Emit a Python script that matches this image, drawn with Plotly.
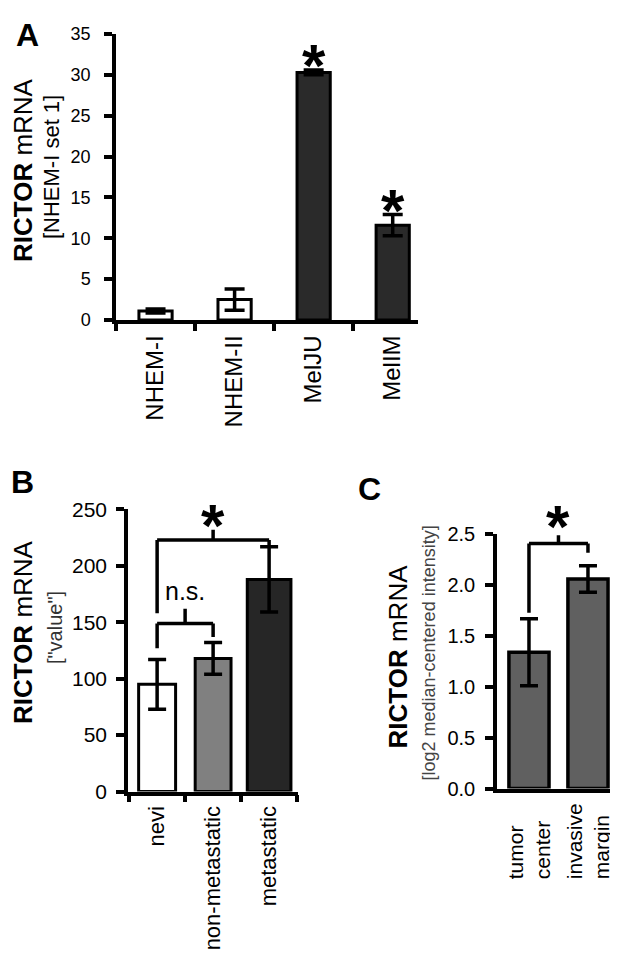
import plotly.graph_objects as go

W, H = 618, 961

# ---------------- data ----------------
# Panel A
cellsA = ["NHEM-I", "NHEM-II", "MelJU", "MelIM"]
meanA = [1.1, 2.5, 30.3, 11.6]
errA = [0.25, 1.3, 0.3, 1.3]
sigA = ["", "", "*", "*"]
ticksA = [0, 5, 10, 15, 20, 25, 30, 35]

# Panel B
groupsB = ["nevi", "non-metastatic", "metastatic"]
meanB = [95, 118, 188]
errB = [22, 14, 29]
ticksB = [0, 50, 100, 150, 200, 250]
bracketB_left = ["nevi", "nevi"]
bracketB_right = ["non-metastatic", "metastatic"]
bracketB_level = [149, 223]
bracketB_leftEnd = [127, 158]
bracketB_rightEnd = [137, 218]
bracketB_peak = [162, 232]
bracketB_label = ["n.s.", "*"]

# Panel C
regionsC = ["tumor center", "invasive margin"]
meanC = [1.34, 2.06]
errC = [0.33, 0.13]
ticksC = [0.0, 0.5, 1.0, 1.5, 2.0, 2.5]
bracketC_left = ["tumor center"]
bracketC_right = ["invasive margin"]
bracketC_level = [2.41]
bracketC_leftEnd = [1.73]
bracketC_rightEnd = [2.32]
bracketC_peak = [2.49]
bracketC_label = ["*"]

# ---------------- helpers ----------------
FONT = "Liberation Sans, Arial, sans-serif"

# observed placement of the page: x offset 8 px (no scaling), y offset 18 px with 941 px height
OX, OY, PW, PH = 8, 18, 618, 941


def px(x):
    return min(max((x - OX) / PW, 0.0), 1.0)


def py(y):
    return min(max(1 - (y - OY) / PH, 0.0), 1.0)


fig = go.Figure()

colorsA = ["white", "white", "#2a2a2a", "#2a2a2a"]
colorsB = ["white", "#808080", "#262626"]
colorsC = ["#606060", "#606060"]
widthsB = [0.66, 0.64, 0.78]

fig.add_trace(go.Bar(
    x=cellsA, y=meanA, xaxis="x", yaxis="y", width=0.42,
    marker=dict(color=colorsA, line=dict(color="black", width=3)),
    error_y=dict(type="data", array=errA, color="black", thickness=3.5, width=10),
))
fig.add_trace(go.Bar(
    x=groupsB, y=meanB, xaxis="x2", yaxis="y2", width=widthsB,
    marker=dict(color=colorsB, line=dict(color="black", width=3)),
    error_y=dict(type="data", array=errB, color="black", thickness=3.5, width=9),
))
fig.add_trace(go.Bar(
    x=regionsC, y=meanC, xaxis="x3", yaxis="y3", width=0.68,
    marker=dict(color=colorsC, line=dict(color="black", width=3.5)),
    error_y=dict(type="data", array=errC, color="black", thickness=3.5, width=9),
))

axis_common = dict(showline=True, linecolor="black", linewidth=3.5,
                   tickcolor="black", tickwidth=3.5, showgrid=False, zeroline=False,
                   fixedrange=True)

fig.update_layout(
    width=W, height=H, margin=dict(l=0, r=0, t=0, b=0),
    paper_bgcolor="white", plot_bgcolor="white", showlegend=False,
    font=dict(family=FONT, color="black"),
    xaxis=dict(domain=[px(116), px(418)], anchor="y", type="category",
               range=[-0.5, 3.32], tickson="boundaries", ticks="outside", ticklen=7,
               tickangle=-90, tickfont=dict(size=24), ticklabelstandoff=2, **axis_common),
    yaxis=dict(domain=[py(319), py(32)], anchor="x", range=[0, 35], tickvals=ticksA,
               ticks="outside", ticklen=8, tickfont=dict(size=18), ticklabelstandoff=10,
               **axis_common),
    xaxis2=dict(domain=[px(128), px(298)], anchor="y2", type="category",
                range=[-0.52, 2.516], tickson="boundaries", ticks="outside", ticklen=7,
                tickangle=-90, tickfont=dict(size=22), ticklabelstandoff=2, **axis_common),
    yaxis2=dict(domain=[py(792), py(509)], anchor="x2", range=[0, 250], tickvals=ticksB,
                ticks="outside", ticklen=8, tickfont=dict(size=21), ticklabelstandoff=5,
                **axis_common),
    xaxis3=dict(domain=[px(497), px(618)], anchor="y3", type="category",
                range=[-0.542, 1.509], showticklabels=False, ticks="",
                **axis_common),
    yaxis3=dict(domain=[py(789), py(534)], anchor="x3", range=[0, 2.5], tickvals=ticksC,
                tickformat=".1f", ticks="outside", ticklen=8, tickfont=dict(size=20),
                ticklabelstandoff=6, **axis_common),
)

annotations = []
shapes = []

for i, (c, m, e, s) in enumerate(zip(cellsA, meanA, errA, sigA)):
    if s:
        annotations.append(dict(x=c, y=m + e, xref="x", yref="y", text=s, showarrow=False,
                                xanchor="center", yanchor="middle", yshift=4,
                                font=dict(size=60, family=FONT, color="black", weight="bold")))


def brackets(xref, yref, cats, lefts, rights, levels, lends, rends, peaks, labels, label_shift):
    for l, r, lv, le, re_, pk, lab in zip(lefts, rights, levels, lends, rends, peaks, labels):
        li, ri = cats.index(l), cats.index(r)
        mid = (li + ri) / 2
        line = dict(color="black", width=3.5)
        shapes.append(dict(type="line", xref=xref, yref=yref, x0=li, x1=li, y0=le, y1=lv, line=line))
        shapes.append(dict(type="line", xref=xref, yref=yref, x0=li, x1=ri, y0=lv, y1=lv, line=line))
        shapes.append(dict(type="line", xref=xref, yref=yref, x0=ri, x1=ri, y0=re_, y1=lv, line=line))
        shapes.append(dict(type="line", xref=xref, yref=yref, x0=mid, x1=mid, y0=lv, y1=pk, line=line))
        if lab == "*":
            annotations.append(dict(x=mid, y=pk, xref=xref, yref=yref, text=lab, showarrow=False,
                                    xanchor="center", yanchor="middle", yshift=label_shift,
                                    font=dict(size=60, family=FONT, color="black", weight="bold")))
        else:
            annotations.append(dict(x=mid, y=pk, xref=xref, yref=yref, text=lab, showarrow=False,
                                    xanchor="center", yanchor="middle", yshift=18,
                                    font=dict(size=25, family=FONT, color="black")))


brackets("x2", "y2", groupsB, bracketB_left, bracketB_right, bracketB_level,
         bracketB_leftEnd, bracketB_rightEnd, bracketB_peak, bracketB_label, 4)
brackets("x3", "y3", regionsC, bracketC_left, bracketC_right, bracketC_level,
         bracketC_leftEnd, bracketC_rightEnd, bracketC_peak, bracketC_label, 9)

for i, r in enumerate(regionsC):
    annotations.append(dict(x=i, y=py(882), xref="x3", yref="paper", text=r.replace(" ", "<br>"),
                            showarrow=False, textangle=-90, align="left",
                            xanchor="center", yanchor="bottom",
                            font=dict(size=21, family=FONT, color="black")))


def title(xc, yc, text, size, color="black"):
    annotations.append(dict(x=px(xc), y=py(yc), xref="paper", yref="paper", text=text,
                            showarrow=False, textangle=-90, xanchor="center", yanchor="middle",
                            font=dict(size=size, family=FONT, color=color)))


title(23, 168.5, "<b>RICTOR</b> mRNA", 26)
title(51, 165.5, "[NHEM-I set 1]", 22)
title(23, 632, "<b>RICTOR</b> mRNA", 26)
title(55, 628, "[\"value\"]", 20, "#333")
title(398, 656.5, "<b>RICTOR</b> mRNA", 26)
title(429, 653.5, "[log2 median-centered intensity]", 18, "#444")

for lab, xc, yc in [("A", 27, 33), ("B", 22, 481), ("C", 369.5, 489)]:
    annotations.append(dict(x=px(xc), y=py(yc), xref="paper", yref="paper", text="<b>%s</b>" % lab,
                            showarrow=False, xanchor="center", yanchor="middle",
                            font=dict(size=32, family=FONT, color="black")))

fig.update_layout(annotations=annotations, shapes=shapes)
fig.write_html("out.html")
